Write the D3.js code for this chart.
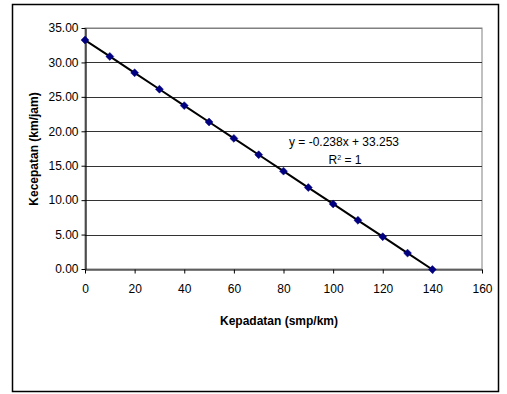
<!DOCTYPE html>
<html>
<head>
<meta charset="utf-8">
<script src="https://cdn.jsdelivr.net/npm/d3@7"></script>
<style>
  body { margin: 0; background: #fff; }
  svg { display: block; }
  text { font-family: "Liberation Sans", Arial, sans-serif; }
</style>
</head>
<body>
<div id="chart"></div>
<script>
// data
const kepadatan = [0, 10, 20, 30, 40, 50, 60, 70, 80, 90, 100, 110, 120, 130, 140];
const kecepatan = [33.25, 30.87, 28.49, 26.11, 23.73, 21.35, 18.97, 16.59, 14.21, 11.83, 9.45, 7.07, 4.69, 2.31, -0.07];
const xTicks = [0, 20, 40, 60, 80, 100, 120, 140, 160];
const yTicks = [0, 5, 10, 15, 20, 25, 30, 35];
const equationLabel = "y = -0.238x + 33.253";

const W = 507, H = 394;
const plot = { left: 85, right: 482, top: 28, bottom: 269 };

const svg = d3.select("#chart").append("svg")
    .attr("width", W)
    .attr("height", H);

// chart area border
svg.append("rect")
    .attr("x", 12.5).attr("y", 4.5)
    .attr("width", 486).attr("height", 387)
    .attr("fill", "#fff")
    .attr("stroke", "#000")
    .attr("stroke-width", 1.5);

const x = d3.scaleLinear().domain([0, 160]).range([plot.left, plot.right]);
const y = d3.scaleLinear().domain([0, 35]).range([plot.bottom, plot.top]);

// plot area frame (grey)
svg.append("rect")
    .attr("x", plot.left).attr("y", plot.top)
    .attr("width", plot.right - plot.left).attr("height", plot.bottom - plot.top)
    .attr("fill", "none")
    .attr("stroke", "#808080")
    .attr("stroke-width", 1);

// horizontal gridlines
svg.append("g")
    .selectAll("line")
    .data(yTicks.filter(d => d > 0))
    .join("line")
    .attr("x1", plot.left).attr("x2", plot.right)
    .attr("y1", d => Math.round(y(d)) + 0.5)
    .attr("y2", d => Math.round(y(d)) + 0.5)
    .attr("stroke", d => d === 35 ? "#808080" : "#333")
    .attr("stroke-width", 1);

// y axis
const yAxis = svg.append("g")
    .attr("transform", `translate(${plot.left + 0.5},0)`)
    .call(d3.axisLeft(y).tickValues(yTicks).tickFormat(d3.format(".2f")).tickSize(4).tickSizeOuter(0).tickPadding(3));

// x axis
const xAxis = svg.append("g")
    .attr("transform", `translate(0,${Math.round(plot.bottom) + 0.5})`)
    .call(d3.axisBottom(x).tickValues(xTicks).tickSize(4).tickSizeOuter(0).tickPadding(11));

[xAxis, yAxis].forEach(g => {
    g.select(".domain").attr("stroke", "#000").attr("stroke-width", 1.2);
    g.selectAll(".tick line").attr("stroke", "#000");
    g.selectAll(".tick text")
        .attr("fill", "#000")
        .style("font-size", "12px")
        .style("font-family", "'Liberation Sans', Arial, sans-serif");
});

// line through points
const pts = kepadatan.map((k, i) => ({ x: k, y: kecepatan[i] }));

svg.append("path")
    .datum(pts)
    .attr("fill", "none")
    .attr("stroke", "#000")
    .attr("stroke-width", 2)
    .attr("d", d3.line().x(d => x(d.x)).y(d => y(d.y)));

// diamond markers
svg.append("g")
    .selectAll("path")
    .data(pts)
    .join("path")
    .attr("transform", d => `translate(${x(d.x)},${y(d.y)})`)
    .attr("d", d3.symbol(d3.symbolDiamond2, 40)())
    .attr("fill", "#000080")
    .attr("stroke", "#000080")
    .attr("stroke-width", 0.5);

// trendline label
svg.append("text")
    .attr("x", 344).attr("y", 146)
    .attr("text-anchor", "middle")
    .style("font-size", "12px")
    .text(equationLabel);

const r2 = svg.append("text")
    .attr("x", 345).attr("y", 164)
    .attr("text-anchor", "middle")
    .style("font-size", "12px");
r2.append("tspan").text("R");
r2.append("tspan").attr("dy", -4).style("font-size", "7px").text("2");
r2.append("tspan").attr("dy", 4).text(" = 1");

// axis titles
svg.append("text")
    .attr("x", 279).attr("y", 325)
    .attr("text-anchor", "middle")
    .style("font-size", "12px")
    .style("font-weight", "bold")
    .text("Kepadatan (smp/km)");

svg.append("text")
    .attr("transform", "translate(38,149) rotate(-90)")
    .attr("text-anchor", "middle")
    .style("font-size", "12px")
    .style("font-weight", "bold")
    .text("Kecepatan (km/jam)");
</script>
</body>
</html>
